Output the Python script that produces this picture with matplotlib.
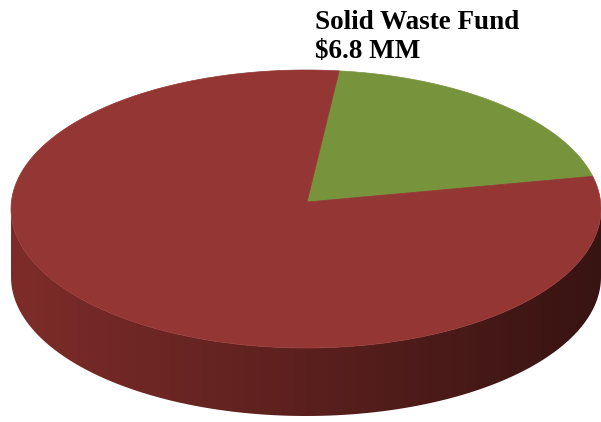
import matplotlib.pyplot as plt
import numpy as np
from matplotlib.patches import Polygon

# fund amounts, $ millions
funds = ["General Fund", "Solid Waste Fund"]
amounts = [28.2, 6.8]
colors = ["#943634", "#77933C"]
label_text = "Solid Waste Fund\n$6.8 MM"

# disk geometry in pixel units
cx, cy = 306, 209
a, b = 295, 139
depth = 68
apex = (307, 202)
start_angle = 13.6  # degrees, where the green slice starts

fig = plt.figure(figsize=(6.01, 4.22), dpi=100)
ax = fig.add_axes([0, 0, 1, 1])
ax.set_xlim(0, 601)
ax.set_ylim(422, 0)
ax.axis("off")


def rim(t0, t1, n=200, dy=0):
    t = np.radians(np.linspace(t0, t1, n))
    return np.column_stack([cx + a * np.cos(t), cy - b * np.sin(t) + dy])


# side wall of the disk, shaded left to right
front_top = rim(180, 360)
front_bot = rim(360, 180, dy=depth)
side = Polygon(np.vstack([front_top, front_bot]), closed=True,
               facecolor="none", edgecolor="none")
ax.add_patch(side)
shade = np.linspace(0, 1, 256)
left_c = np.array([126, 44, 41]) / 255
right_c = np.array([55, 20, 18]) / 255
grad = (left_c[None, :] * (1 - shade[:, None]) + right_c[None, :] * shade[:, None])[None, :, :]
img = ax.imshow(grad, extent=(cx - a, cx + a, cy + depth + b, cy - b),
                aspect="auto", zorder=1)
img.set_clip_path(side)

# top face: slices drawn from the apex out to the rim
total = sum(amounts)
spans = [360 * v / total for v in amounts]
t0 = start_angle
for i in [1, 0]:
    t1 = t0 + spans[i]
    pts = np.vstack([[apex], rim(t0, t1)])
    ax.add_patch(Polygon(pts, closed=True, facecolor=colors[i],
                         edgecolor=colors[i], linewidth=0.5, zorder=2))
    t0 = t1

ax.text(315, 10, label_text, family="Liberation Serif", fontweight="bold",
        fontsize=19.5, va="top", ha="left", linespacing=1.2, color="black")

fig.savefig("out.png", dpi=100)
